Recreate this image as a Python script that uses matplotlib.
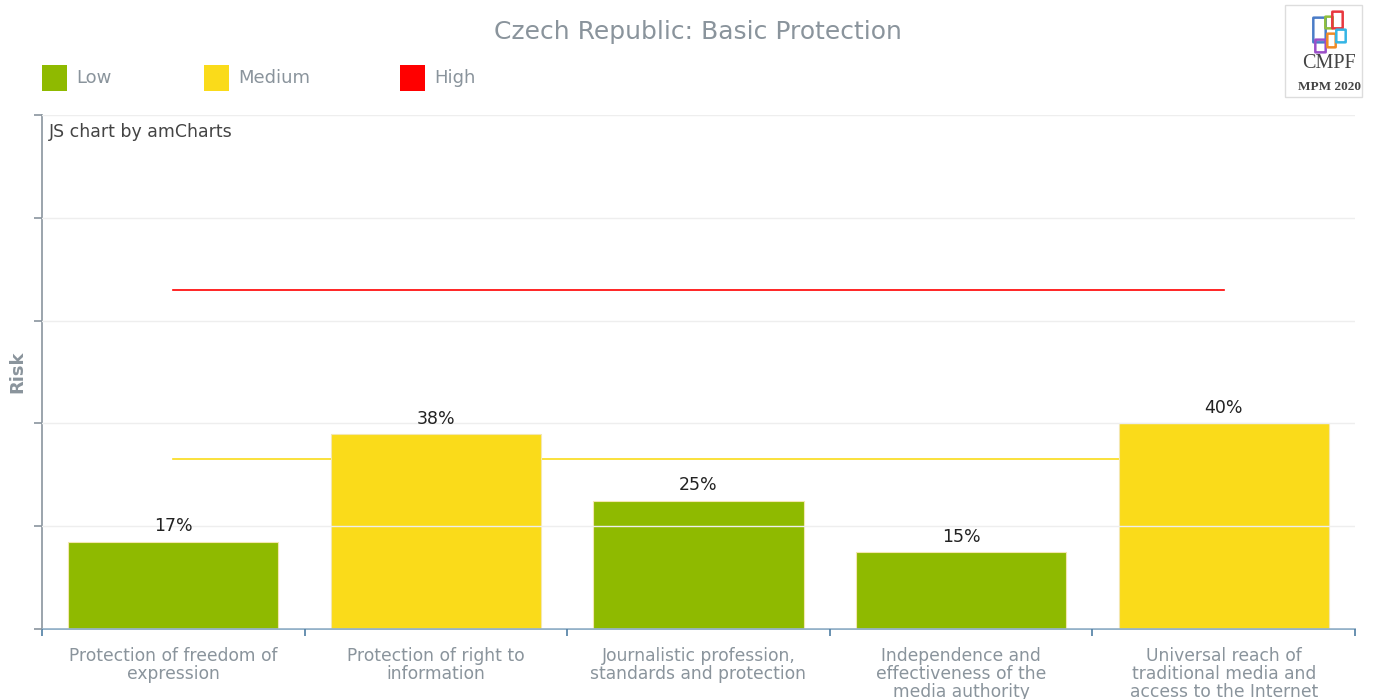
import matplotlib.pyplot as plt
from matplotlib.patches import Rectangle, FancyBboxPatch

categories = [
    "Protection of freedom of\nexpression",
    "Protection of right to\ninformation",
    "Journalistic profession,\nstandards and protection",
    "Independence and\neffectiveness of the\nmedia authority",
    "Universal reach of\ntraditional media and\naccess to the Internet",
]
risk_values = [17, 38, 25, 15, 40]
risk_levels = ["Low", "Medium", "Low", "Low", "Medium"]
medium_threshold = 33
high_threshold = 66

level_colors = {"Low": "#8fba00", "Medium": "#fadb1a", "High": "#ff0000"}
grey_text = "#8a949c"

fig = plt.figure(figsize=(13.77, 6.99), dpi=100)
ax = fig.add_axes([42 / 1377, 70 / 699, 1313 / 1377, 514 / 699])

x = list(range(len(categories)))
ax.plot([x[0], x[-1]], [medium_threshold] * 2, color="#fadb1a", lw=1.2, zorder=1)
bars = ax.bar(x, risk_values, width=0.8,
              color=[level_colors[l] for l in risk_levels],
              edgecolor="#f3e7b0", linewidth=0.8, zorder=2)
ax.plot([x[0], x[-1]], [high_threshold] * 2, color="#ff0000", lw=1.2, zorder=3)

for xi, v in zip(x, risk_values):
    ax.text(xi, v + 1.2, f"{v}%", ha="center", va="bottom", fontsize=12.5, color="#222222")

ax.set_xlim(-0.5, len(categories) - 0.5)
ax.set_ylim(0, 100)
ax.set_yticks(range(0, 101, 20))
ax.set_yticklabels([])
ax.yaxis.grid(True, color="#eeeeee", lw=1, zorder=4)
ax.set_axisbelow(False)

ax.set_xticks([i - 0.5 for i in range(len(categories) + 1)], minor=False)
ax.set_xticklabels([])
ax.set_xticks(x, minor=True)
ax.set_xticklabels(categories, minor=True, fontsize=12.3, color=grey_text, linespacing=1.0)
ax.tick_params(axis="x", which="minor", length=0, pad=13)
ax.tick_params(axis="x", which="major", direction="out", length=5, color="#4f7ea3", width=1.2)
ax.tick_params(axis="y", direction="out", length=6, color="#8a959e", width=1.2)

for side in ["top", "right"]:
    ax.spines[side].set_visible(False)
ax.spines["left"].set_color("#8a959e")
ax.spines["left"].set_linewidth(1.2)
ax.spines["bottom"].set_color("#7fa3bf")
ax.spines["bottom"].set_linewidth(1.2)

fig.text(17 / 1377, 1 - 372 / 699, "Risk", rotation=90, ha="center", va="center",
         fontsize=13, fontweight="bold", color=grey_text)
ax.text(0.005, 0.985, "JS chart by amCharts", transform=ax.transAxes,
        ha="left", va="top", fontsize=12.5, color="#444444")

fig.text(698 / 1377, 1 - 32 / 699, "Czech Republic: Basic Protection",
         ha="center", va="center", fontsize=18, color=grey_text)

# legend
for label, lx in [("Low", 42), ("Medium", 204), ("High", 400)]:
    fig.add_artist(Rectangle((lx / 1377, 1 - 91 / 699), 25 / 1377, 26 / 699,
                             transform=fig.transFigure, facecolor=level_colors[label],
                             edgecolor="none"))
    fig.text((lx + 34) / 1377, 1 - 78 / 699, label, ha="left", va="center",
             fontsize=13, color=grey_text)

# logo
fig.add_artist(Rectangle((1285 / 1377, 1 - 97 / 699), 77 / 1377, 92 / 699,
                         transform=fig.transFigure, facecolor="white",
                         edgecolor="#dddddd", lw=1))
icon = [(1314, 18, 11, 24, "#4a7cc7"), (1326, 17, 6, 11, "#8fbf3a"),
        (1333, 12, 9, 16, "#e8373e"), (1316, 40, 9, 12, "#9b4fc8"),
        (1328, 34, 7, 13, "#f08a24"), (1337, 30, 8, 12, "#35b5e5")]
for ix, iy, w, h, c in icon:
    fig.add_artist(FancyBboxPatch((ix / 1377, 1 - (iy + h) / 699), w / 1377, h / 699,
                                  boxstyle="round,pad=0.0005", transform=fig.transFigure,
                                  facecolor="none", edgecolor=c, lw=1.8))
fig.text(1329 / 1377, 1 - 64 / 699, "CMPF", ha="center", va="center",
         fontsize=14.5, family="Liberation Serif", color="#444444")
fig.text(1329 / 1377, 1 - 87 / 699, "MPM 2020", ha="center", va="center",
         fontsize=9.5, family="Liberation Serif", fontweight="bold", color="#444444")

fig.savefig("out.png", dpi=100)
